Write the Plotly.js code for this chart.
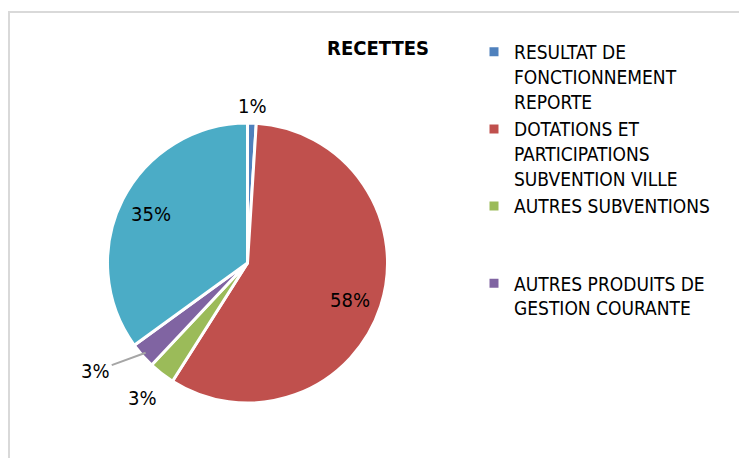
<!DOCTYPE html>
<html>
<head>
<meta charset="utf-8">
<script src="https://cdn.plot.ly/plotly-3.0.1.min.js"></script>
<style>
html,body{margin:0;padding:0;background:#fff;}
#chart{width:739px;height:458px;}
</style>
</head>
<body>
<div id="chart"></div>
<script>
const categories = [
  "RESULTAT DE<br>FONCTIONNEMENT<br>REPORTE",
  "DOTATIONS ET<br>PARTICIPATIONS<br>SUBVENTION VILLE",
  "AUTRES SUBVENTIONS<br> <br> ",
  "AUTRES PRODUITS DE<br>GESTION COURANTE",
  "PRODUITS DES SERVICES"
];
const shares = [1, 58, 3, 3, 35];
const colors = ["#4f81bd", "#c0504d", "#9bbb59", "#8064a2", "#4bacc6"];

// label placement style (radius as a fraction of the pie radius, angle nudge in degrees, leader line)
const labelRadius = [1.12, 0.78, 1.22, 1.33, 0.77];
const labelNudge = [0, 2, 0, 6, 0];
const labelLeader = [false, false, false, true, false];

const FONT = "'Liberation Sans Narrow', 'Arial Narrow', 'DejaVu Sans Condensed', sans-serif";

const W = 739, H = 458;
const cx = 247.5, cy = 263, r = 140;
const dom = {
  x: [(cx - r) / W, (cx + r) / W],
  y: [(H - cy - r) / H, (H - cy + r) / H]
};

const trace = {
  type: "pie",
  labels: categories,
  values: shares,
  sort: false,
  direction: "clockwise",
  rotation: 0,
  marker: {colors: colors, line: {color: "#ffffff", width: 3}},
  textposition: "none",
  hoverinfo: "label+percent",
  domain: dom
};

// percentage labels placed around each slice's mid-angle, computed from the data
const total = shares.reduce((a, b) => a + b, 0);
const pcx = (dom.x[0] + dom.x[1]) / 2, pcy = (dom.y[0] + dom.y[1]) / 2;
const annotations = [];
let cum = 0;
shares.forEach((v, i) => {
  const mid = (cum + v / 2) / total * 2 * Math.PI;
  cum += v;
  const a = mid + labelNudge[i] * Math.PI / 180;
  const txt = Math.round(v / total * 100) + "%";
  const lx = r * labelRadius[i] * Math.sin(a);
  const ly = r * labelRadius[i] * Math.cos(a);
  if (labelLeader[i]) {
    const ex = r * 0.97 * Math.sin(mid), ey = r * 0.97 * Math.cos(mid);
    annotations.push({
      xref: "paper", yref: "paper",
      x: pcx + ex / W, y: pcy + ey / H,
      ax: lx - ex, ay: -(ly - ey),
      axref: "pixel", ayref: "pixel",
      text: txt, showarrow: true, arrowhead: 0, arrowwidth: 2,
      arrowcolor: "#a6a6a6", standoff: 0,
      font: {family: FONT, size: 20, color: "#000000"}
    });
  } else {
    annotations.push({
      xref: "paper", yref: "paper",
      x: pcx + lx / W, y: pcy + ly / H,
      xanchor: "center", yanchor: "middle",
      text: txt, showarrow: false,
      font: {family: FONT, size: 20, color: "#000000"}
    });
  }
});

const layout = {
  width: W,
  height: H,
  margin: {l: 0, r: 0, t: 0, b: 0},
  paper_bgcolor: "#ffffff",
  font: {family: FONT, size: 20, color: "#000000"},
  title: {
    text: "<b>RECETTES</b>",
    font: {family: FONT, size: 20, color: "#000000"},
    x: 378 / W, xanchor: "center",
    y: 1 - 48 / H, yanchor: "middle"
  },
  showlegend: true,
  legend: {
    x: 474 / W, xanchor: "left",
    y: 1 - 33 / H, yanchor: "top",
    valign: "top",
    font: {family: FONT, size: 19, color: "#000000"},
    bgcolor: "rgba(0,0,0,0)",
    tracegroupgap: 0
  },
  annotations: annotations,
  shapes: [{
    type: "rect", xref: "paper", yref: "paper",
    x0: 9 / W, x1: 1.05, y0: -0.05, y1: 1 - 12 / H,
    line: {color: "#d9d9d9", width: 2}
  }]
};

Plotly.newPlot("chart", [trace], layout, {displayModeBar: false, staticPlot: true}).then(() => {
  // the fifth legend entry is cut off in the reference
  const items = document.querySelectorAll(".legend .traces");
  if (items.length > 4) items[4].remove();
});
</script>
</body>
</html>
